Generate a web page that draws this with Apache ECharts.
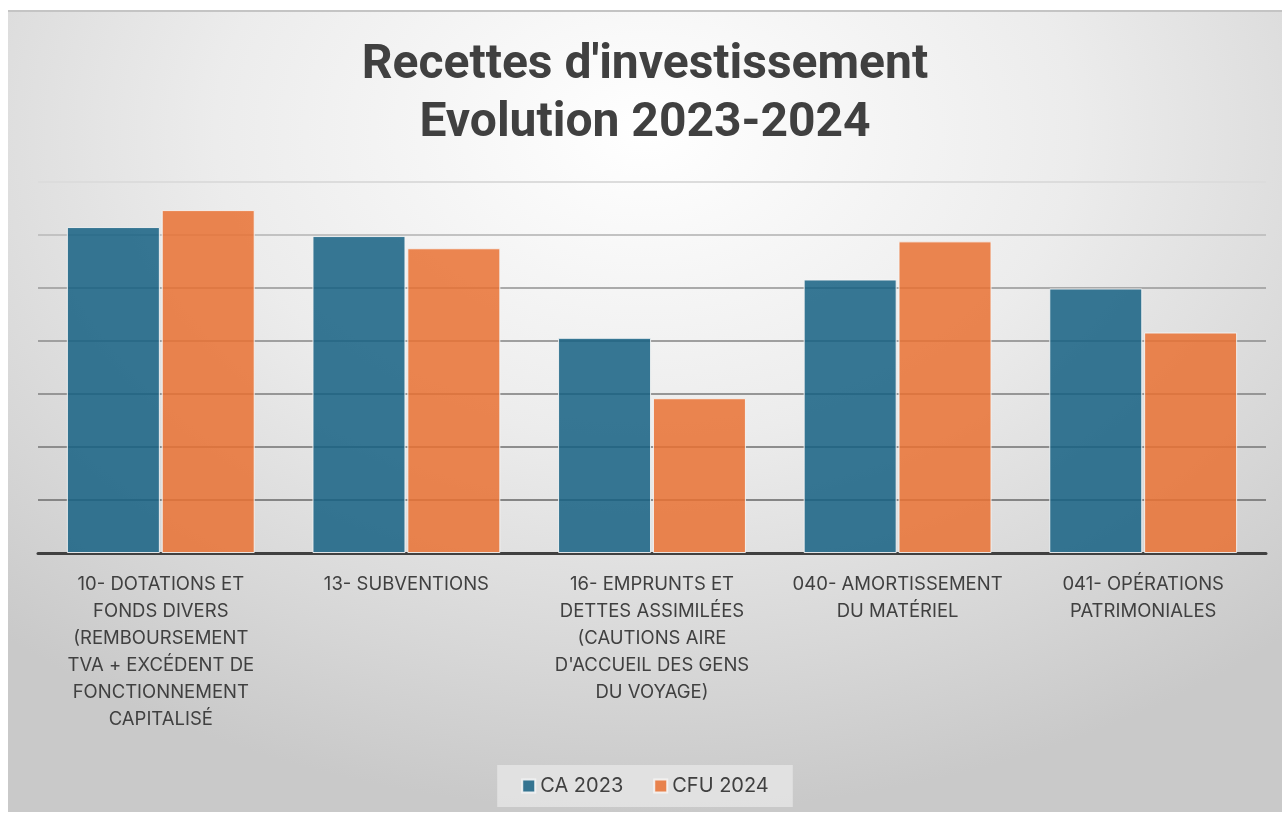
<!DOCTYPE html>
<html>
<head>
<meta charset="utf-8">
<script src="https://cdn.jsdelivr.net/npm/echarts@6/dist/echarts.min.js"></script>
<style>
  html, body { margin: 0; padding: 0; background: #ffffff; }
  #frame {
    position: absolute; left: 8px; top: 10px; width: 1274px; height: 800px;
    border-top: 2px solid #c4c4c4;
    background: radial-gradient(ellipse 75% 85% at 50% 15%, #ffffff 0%, #ececec 45%, #d6d6d6 80%, #c9c9c9 100%);
  }
  #chart { width: 1274px; height: 800px; }
</style>
</head>
<body>
<div id="frame"><div id="chart"></div></div>
<script>
// catégories (retours à la ligne comme dans le graphique d'origine)
const categories = [
  "10- DOTATIONS ET\nFONDS DIVERS\n(REMBOURSEMENT\nTVA + EXCÉDENT DE\nFONCTIONNEMENT\nCAPITALISÉ",
  "13- SUBVENTIONS",
  "16- EMPRUNTS ET\nDETTES ASSIMILÉES\n(CAUTIONS AIRE\nD'ACCUEIL DES GENS\nDU VOYAGE)",
  "040- AMORTISSEMENT\nDU MATÉRIEL",
  "041- OPÉRATIONS\nPATRIMONIALES"
];
const seriesNames = ["CA 2023", "CFU 2024"];
const ca2023 = [6.15, 5.98, 4.06, 5.16, 4.99];
const cfu2024 = [6.47, 5.75, 2.92, 5.88, 4.16];

const chart = echarts.init(document.getElementById("chart"));
chart.setOption({
  backgroundColor: "transparent",
  title: {
    text: "Recettes d'investissement\nEvolution 2023-2024",
    left: "center",
    top: 20,
    textStyle: {
      fontFamily: "Roboto",
      fontWeight: "bold",
      fontSize: 48,
      lineHeight: 58,
      color: "#404040"
    }
  },
  legend: {
    data: seriesNames,
    bottom: 5,
    left: "center",
    padding: [11, 24],
    backgroundColor: "rgba(230,230,230,0.8)",
    itemWidth: 13,
    itemHeight: 13,
    itemGap: 30,
    icon: "rect",
    textStyle: { fontFamily: "Inter", fontSize: 20, color: "#404040" }
  },
  grid: {
    left: 30,
    right: 16,
    top: 170,
    bottom: 259
  },
  xAxis: {
    type: "category",
    data: categories,
    axisTick: { show: false },
    axisLine: { lineStyle: { color: "#404040", width: 3 } },
    axisLabel: {
      interval: 0,
      margin: 18,
      fontFamily: "Inter",
      fontSize: 18.5,
      lineHeight: 27,
      color: "#404040",
      align: "center",
      verticalAlign: "top"
    }
  },
  yAxis: {
    type: "value",
    min: 0,
    max: 7,
    interval: 1,
    axisLabel: { show: false },
    axisLine: { show: false },
    axisTick: { show: false },
    splitLine: {
      show: true,
      lineStyle: {
        width: 2,
        // une couleur par valeur 0..7 : plus clair vers le haut
        color: ["#707070", "#858585", "#8d8d8d", "#969696", "#9f9f9f", "#aaaaaa", "#c2c2c2", "#dcdcdc"]
      }
    }
  },
  series: [
    {
      name: seriesNames[0],
      type: "bar",
      data: ca2023,
      barWidth: 93,
      barGap: "2%",
      itemStyle: { color: "rgba(21,96,130,0.85)", borderColor: "rgba(245,245,245,0.9)", borderWidth: 1 }
    },
    {
      name: seriesNames[1],
      type: "bar",
      data: cfu2024,
      barWidth: 93,
      itemStyle: { color: "rgba(233,113,50,0.85)", borderColor: "rgba(245,245,245,0.9)", borderWidth: 1 }
    }
  ]
});
</script>
</body>
</html>
